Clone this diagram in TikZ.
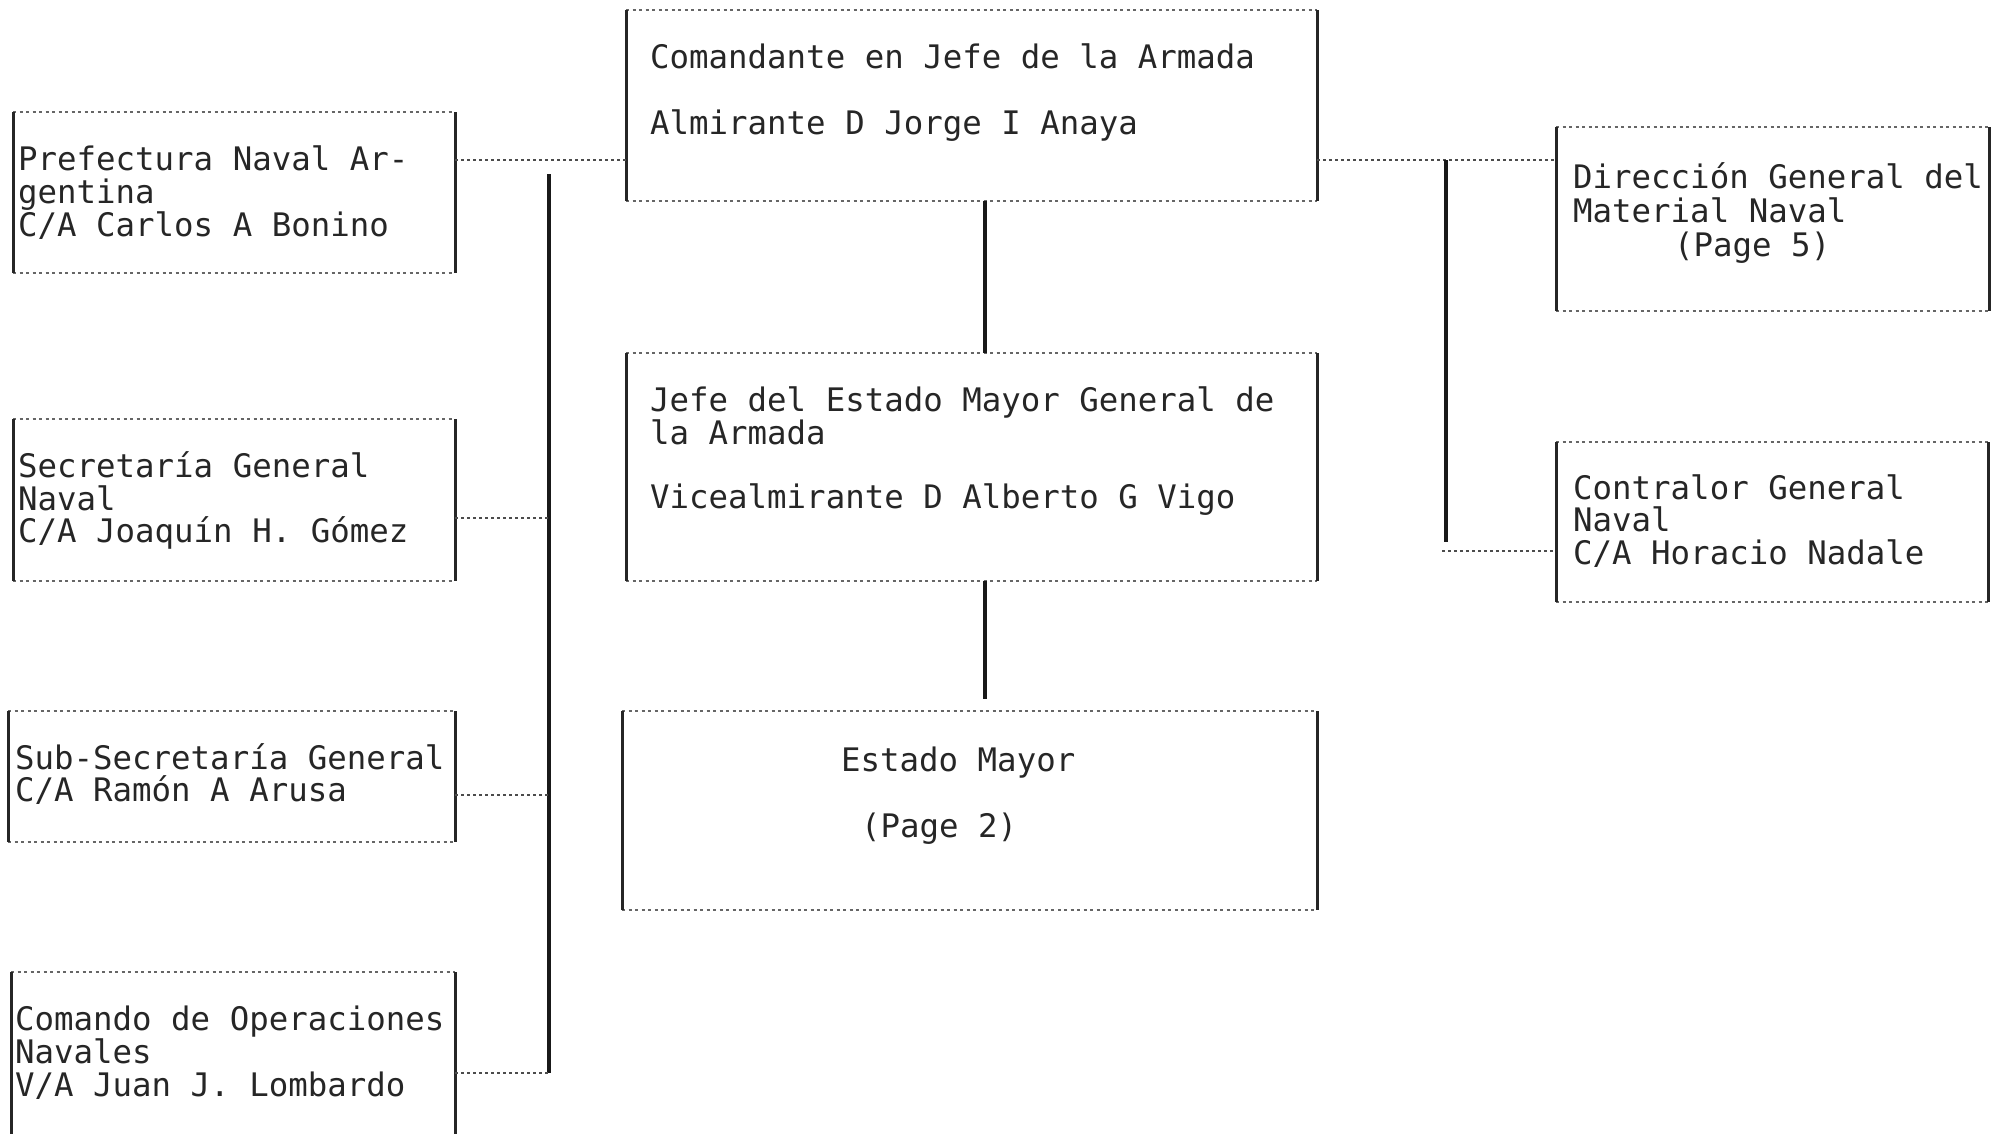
\documentclass[tikz,border=0pt]{standalone}
\usepackage{fontspec}
\setmonofont{DejaVu Sans Mono}
\begin{document}
\begin{tikzpicture}[x=1pt,y=-1pt,
  box/.style={draw=none,inner sep=0pt,outer sep=0pt,rectangle},
  side/.style={line width=3pt,black!85},
  edge/.style={line width=1.6pt,black!60,dash pattern=on 3pt off 3.5pt},
  link/.style={line width=1.6pt,black!70,dash pattern=on 3pt off 3pt},
  bus/.style={line width=3.2pt,black!90},
  txt/.style={anchor=mid west,inner sep=0pt,yshift=-9pt,font=\ttfamily\fontsize{32.4}{33}\selectfont,text=black!85}]
\useasboundingbox (0,0) rectangle (1992,1133);
\clip (0,0) rectangle (1992,1133);
\newcommand{\orgbox}[5]{%
  \node[box,minimum width={(#4-#2)*1pt},minimum height={(#5-#3)*1pt}] (#1) at ({(#2+#4)/2},{(#3+#5)/2}) {};
  \draw[edge] (#1.north west) -- (#1.north east);
  \draw[edge] (#1.south west) -- (#1.south east);
  \draw[side] (#1.north west) -- (#1.south west);
  \draw[side] (#1.north east) -- (#1.south east);}
% boxes
\orgbox{pref}{13}{112}{455}{273}
\orgbox{secr}{13}{419}{455}{581}
\orgbox{subs}{8}{711}{455}{842}
\orgbox{coop}{11}{972}{455}{1160}
\orgbox{cjefe}{626}{10}{1317}{201}
\orgbox{jemg}{626}{353}{1317}{581}
\orgbox{emay}{622}{711}{1317}{910}
\orgbox{dgmn}{1556}{127}{1989}{311}
\orgbox{cgn}{1556}{442}{1988}{602}
% texts
\node[txt] (t1) at (18,159) {Prefectura Naval Ar-};
\node[txt] (t2) at (18,192) {gentina};
\node[txt] (t3) at (18,225) {C/A Carlos A Bonino};
\node[txt] (t4) at (18,466) {Secretaría General};
\node[txt] (t5) at (18,499) {Naval};
\node[txt] (t6) at (18,531) {C/A Joaquín H. Gómez};
\node[txt] (t7) at (15,758) {Sub-Secretaría General};
\node[txt] (t8) at (15,790) {C/A Ramón A Arusa};
\node[txt] (t9) at (15,1019) {Comando de Operaciones};
\node[txt] (t10) at (15,1052) {Navales};
\node[txt] (t11) at (15,1085) {V/A Juan J. Lombardo};
\node[txt] (t12) at (650,57) {Comandante en Jefe de la Armada};
\node[txt] (t13) at (650,123) {Almirante D Jorge I Anaya};
\node[txt] (t14) at (650,400) {Jefe del Estado Mayor General de};
\node[txt] (t15) at (650,433) {la Armada};
\node[txt] (t16) at (650,497) {Vicealmirante D Alberto G Vigo};
\node[txt] (t17) at (841,760) {Estado Mayor};
\node[txt] (t18) at (861,826) {(Page 2)};
\node[txt] (t19) at (1573,177) {Dirección General del};
\node[txt] (t20) at (1573,211) {Material Naval};
\node[txt] (t21) at (1674,245) {(Page 5)};
\node[txt] (t22) at (1573,488) {Contralor General};
\node[txt] (t23) at (1573,520) {Naval};
\node[txt] (t24) at (1573,553) {C/A Horacio Nadale};
% connector points
\coordinate (pA) at (455,160);
\coordinate (lbT) at (549,174);
\coordinate (lbB) at (549,1073);
\coordinate (sA) at (455,518);
\coordinate (uA) at (455,795);
\coordinate (oA) at (455,1073);
\coordinate (rA) at (1317,160);
\coordinate (rbT) at (1446,160);
\coordinate (rbB) at (1446,542);
\coordinate (cA) at (1442,551);
\coordinate (mX) at (985,0);
\coordinate (mE) at (985,699);
% connectors
\draw[link] (pA) -- (pA -| cjefe.west);
\draw[bus] (lbT) -- (lbB);
\draw[link] (sA) -- (sA -| lbT);
\draw[link] (uA) -- (uA -| lbT);
\draw[link] (oA) -- (lbB);
\draw[link] (rA) -- (rA -| dgmn.west);
\draw[bus] (rbT) -- (rbB);
\draw[link] (cA) -- (cA -| cgn.west);
\draw[bus] (mX |- cjefe.south) -- (mX |- jemg.north);
\draw[bus] (mX |- jemg.south) -- (mE);
\end{tikzpicture}
\end{document}
